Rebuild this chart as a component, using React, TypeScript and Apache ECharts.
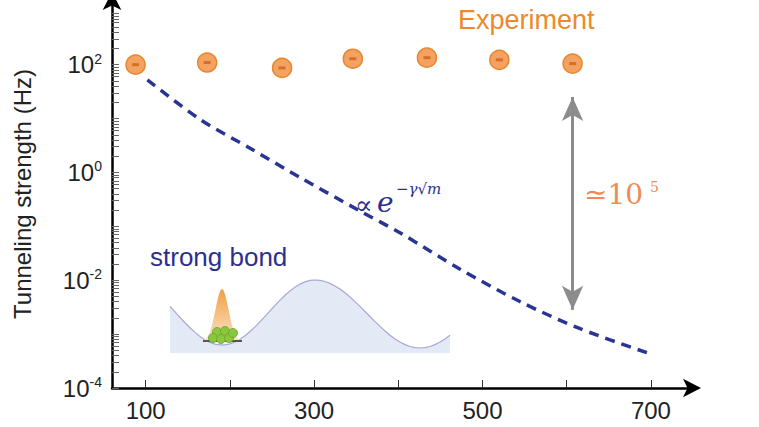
import { useEffect, useRef } from 'react';
import * as echarts from 'echarts';

// mass (x) and log10 of tunneling strength (y)
const expMass = [88, 173, 262, 346, 434, 520, 607];
const expLog = [2.0, 2.04, 1.94, 2.11, 2.13, 2.09, 2.02];
const fitMass = [102, 165, 225, 284, 355, 402, 474, 545, 616, 700];
const fitLog = [1.72, 0.98, 0.44, -0.1, -0.72, -1.12, -1.8, -2.4, -2.9, -3.37];
const xLabels = [100, 300, 500, 700];
const xTicks = [100, 200, 300, 400, 500, 600, 700];
const yLabels = [-4, -2, 0, 2];
const arrowMass = 607;
const arrowRange = [1.4, -2.55];

const yTicks: number[] = [];
for (let d = -4; d < 3; d++) {
  for (let k = 1; k < 10; k++) yTicks.push(d + Math.log10(k));
}

// inset potential well drawing
const wellPts: number[][] = [];
for (let i = 0; i <= 56; i++) {
  const x = 170 + i * 5;
  let y;
  if (x < 315) y = 345 - 65 * (1 - Math.cos(((x - 222) / 93) * Math.PI)) / 2;
  else y = 280 + 68 * (1 - Math.cos(((x - 315) / 105) * Math.PI)) / 2;
  wellPts.push([x, y]);
}
const gaussPts: number[][] = [];
for (let i = 0; i <= 30; i++) {
  const x = 202 + i * (40 / 30);
  gaussPts.push([x, 341 - 52 * Math.exp(-((x - 222) ** 2) / (2 * 6.5 * 6.5))]);
}
const balls = [[217, 332], [225, 331], [213, 338], [221, 339], [229, 338], [233, 333]];

export default function App() {
  const ref = useRef<HTMLDivElement>(null);
  useEffect(() => {
    if (!ref.current) return;
    const chart = echarts.init(ref.current, undefined, { renderer: 'svg' });
    const font = 'Liberation Sans, Arial, sans-serif';
    chart.setOption({
      animation: false,
      grid: { left: 112, right: 66, top: 0, bottom: 39 },
      xAxis: {
        type: 'value', min: 60, max: 750,
        splitLine: { show: false },
        axisLine: { onZero: false, lineStyle: { color: '#000', width: 2.5 }, symbol: ['none', 'arrow'], symbolSize: [14, 18], symbolOffset: [0, 8] },
        axisTick: { inside: true, length: 8, lineStyle: { color: '#333' }, customValues: xTicks },
        axisLabel: { customValues: xLabels, fontSize: 24, color: '#222', fontFamily: font, margin: 10 },
      },
      yAxis: {
        type: 'value', min: -4, max: 3.2,
        splitLine: { show: false },
        name: 'Tunneling strength (Hz)', nameLocation: 'middle', nameGap: 78,
        nameTextStyle: { fontSize: 24, color: '#222', fontFamily: font },
        axisLine: { onZero: false, lineStyle: { color: '#000', width: 2.5 }, symbol: ['none', 'arrow'], symbolSize: [14, 18], symbolOffset: [0, 8] },
        axisTick: { inside: true, length: 7, lineStyle: { color: '#666' }, customValues: yTicks },
        axisLabel: {
          customValues: yLabels, margin: 10,
          formatter: (v: number) => `{b|10}{s|${Math.round(v)}}`,
          rich: {
            b: { fontSize: 24, color: '#222', fontFamily: font },
            s: { fontSize: 14, color: '#222', fontFamily: font, verticalAlign: 'top', padding: [0, 0, 12, 0] },
          },
        },
      },
      graphic: [
        { type: 'polygon', shape: { points: [...wellPts, [450, 353], [170, 353]] }, style: { fill: '#e3eaf6', stroke: 'none' } },
        { type: 'polyline', shape: { points: wellPts }, style: { stroke: '#a9a6d8', lineWidth: 1.2, fill: 'none' } },
        {
          type: 'polygon', shape: { points: gaussPts },
          style: { fill: new echarts.graphic.LinearGradient(0, 0, 0, 1, [{ offset: 0, color: '#f0a040' }, { offset: 1, color: '#fbe3c8' }]) },
        },
        { type: 'line', shape: { x1: 203, y1: 341, x2: 242, y2: 341 }, style: { stroke: '#555', lineWidth: 2 } },
        ...balls.map(([x, y]) => ({ type: 'circle', shape: { cx: x, cy: y, r: 4.5 }, style: { fill: '#8cc63f', stroke: '#6aa52a', lineWidth: 0.8 } })),
        { type: 'text', left: 458, top: 6, style: { text: 'Experiment', fontSize: 27, fill: '#ec8a2a', fontFamily: font } },
        { type: 'text', left: 150, top: 244, style: { text: 'strong bond', fontSize: 26, fill: '#2b2f8e', fontFamily: font } },
        { type: 'text', left: 584, top: 180, style: { text: '≃10', fontSize: 28, fill: '#ef8a55', fontFamily: 'DejaVu Serif, serif' } },
        { type: 'text', left: 650, top: 180, style: { text: '5', fontSize: 14, fill: '#ef8a55', fontFamily: 'DejaVu Serif, serif' } },
        { type: 'text', left: 355, top: 192, style: { text: '∝', fontSize: 26, fill: '#2b2f8e', fontFamily: 'DejaVu Serif, serif' } },
        { type: 'text', left: 377, top: 188, style: { text: 'e', fontSize: 28, fill: '#2b2f8e', fontFamily: 'DejaVu Serif, serif', fontStyle: 'italic' } },
        { type: 'text', left: 396, top: 181, style: { text: '−γ√m', fontSize: 15, fill: '#2b2f8e', fontFamily: 'DejaVu Serif, serif', fontStyle: 'italic' } },
      ],
      series: [
        {
          type: 'line', data: fitMass.map((m, i) => [m, fitLog[i]]), smooth: 0.3, showSymbol: false,
          lineStyle: { color: '#283593', width: 3.5, type: [10, 7] }, z: 2,
          markLine: {
            silent: true, symbol: ['arrow', 'arrow'], symbolSize: [16, 24], label: { show: false },
            lineStyle: { color: '#8c8c8c', width: 3, type: 'solid' },
            data: [[{ coord: [arrowMass, arrowRange[0]] }, { coord: [arrowMass, arrowRange[1]] }]],
          },
        },
        {
          type: 'scatter', data: expMass.map((m, i) => [m, expLog[i]]), symbolSize: 19,
          itemStyle: { color: '#f4a262', borderColor: '#e8862c', borderWidth: 1.5, opacity: 1 }, z: 3,
        },
        {
          type: 'scatter', data: expMass.map((m, i) => [m, expLog[i]]), symbol: 'rect', symbolSize: [7, 3],
          itemStyle: { color: '#d0621a' }, z: 4, silent: true,
        },
      ],
    });
    return () => chart.dispose();
  }, []);
  return <div ref={ref} style={{ width: 759, height: 427, position: 'absolute', left: 0, top: 0, background: '#fff' }} />;
}
